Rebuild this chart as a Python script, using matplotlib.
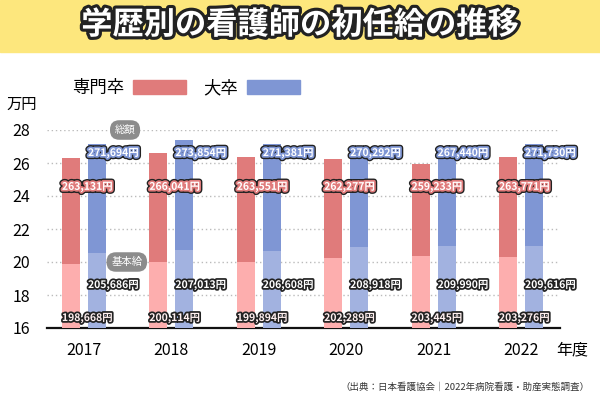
import numpy as np
import matplotlib.pyplot as plt
import matplotlib.patheffects as pe
from matplotlib.patches import Rectangle, Patch

plt.rcParams['font.family'] = ['Noto Sans CJK JP', 'DejaVu Sans']

years = ['2017', '2018', '2019', '2020', '2021', '2022']
senmon_total = [263131, 266041, 263551, 262277, 259233, 263771]
daisotsu_total = [271694, 273854, 271381, 270292, 267440, 271730]
senmon_base = [198668, 200114, 199894, 202289, 203445, 203276]
daisotsu_base = [205686, 207013, 206608, 208918, 209990, 209616]

red_dark = '#E07B7B'
red_light = '#FDAEAE'
blue_dark = '#7F96D4'
blue_light = '#A2B2E0'

fig = plt.figure(figsize=(6, 4), dpi=100)
fig.patches.append(Rectangle((0, 1 - 52 / 400), 1, 52 / 400, transform=fig.transFigure,
                             color='#FDE77D', zorder=0))
fig.text(0.5, 1 - 25 / 400, '学歴別の看護師の初任給の推移', ha='center', va='center',
         fontsize=22.5, fontweight='bold', color='white',
         path_effects=[pe.withStroke(linewidth=4.5, foreground='#222222')])

ax = fig.add_axes([47 / 600, 0.18, 513 / 600, 198 / 400])
x = np.arange(len(years))
w = 0.206
off = 0.149
base = 16

st = np.array(senmon_total) / 10000
dt = np.array(daisotsu_total) / 10000
sb = np.array(senmon_base) / 10000
db = np.array(daisotsu_base) / 10000

ax.bar(x - off, sb - base, w, bottom=base, color=red_light, zorder=2)
ax.bar(x - off, st - sb, w, bottom=sb, color=red_dark, zorder=2)
ax.bar(x + off, db - base, w, bottom=base, color=blue_light, zorder=2)
ax.bar(x + off, dt - db, w, bottom=db, color=blue_dark, zorder=2)

ax.axhline(base, color='#111111', lw=1.6, zorder=1, clip_on=False)
for yv in range(18, 29, 2):
    ax.axhline(yv, color='#BBBBBB', lw=1, ls=(0, (1, 2)), zorder=0)


def total_fx(c):
    return [pe.Stroke(linewidth=4.5, foreground='#222222'),
            pe.Stroke(linewidth=2.5, foreground=c), pe.Normal()]


base_fx = [pe.withStroke(linewidth=2.5, foreground='#222222')]

for i in range(len(years)):
    ax.text(x[i] - off - w / 2, 24.55, f'{senmon_total[i]:,}円', ha='left', va='center',
            fontsize=7.5, fontweight='bold', color='white', path_effects=total_fx(red_dark), zorder=5)
    ax.text(x[i] + off - w / 2, 26.6, f'{daisotsu_total[i]:,}円', ha='left', va='center',
            fontsize=7.5, fontweight='bold', color='white', path_effects=total_fx(blue_dark), zorder=5)
    ax.text(x[i] - off - w / 2, 16.6, f'{senmon_base[i]:,}円', ha='left', va='center',
            fontsize=7.5, fontweight='bold', color='#FFF0F0', path_effects=base_fx, zorder=5)
    ax.text(x[i] + off - w / 2, 18.6, f'{daisotsu_base[i]:,}円', ha='left', va='center',
            fontsize=7.5, fontweight='bold', color='white', path_effects=base_fx, zorder=5)

box = dict(boxstyle='round,pad=0.45,rounding_size=0.9', fc='#8C8C8C', ec='none')
ax.text(0.47, 28, '総額', ha='center', va='center', fontsize=7.5, color='white', bbox=box, zorder=6)
ax.text(0.49, 20, '基本給', ha='center', va='center', fontsize=7.5, color='white', bbox=box, zorder=6)

ax.set_xlim(-0.423, 5.446)
ax.set_ylim(16, 28)
ax.set_yticks(range(16, 29, 2))
ax.set_xticks(x)
ax.set_xticklabels(years)
ax.tick_params(axis='both', length=0, labelsize=11.5)
ax.tick_params(axis='x', pad=10)
ax.tick_params(axis='y', pad=12)
for s in ax.spines.values():
    s.set_visible(False)

fig.text(22 / 600, 1 - 104 / 400, '万円', ha='center', va='center', fontsize=11)
fig.text(572 / 600, 1 - 350 / 400, '年度', ha='center', va='center', fontsize=11.5)
fig.text(590 / 600, 1 - 387 / 400, '（出典：日本看護協会｜2022年病院看護・助産実態調査）',
         ha='right', va='center', fontsize=6.8, color='#333333')

handles = [Patch(color=red_dark), Patch(color=blue_dark)]
fig.legend(handles, ['専門卒', '大卒'], loc='center left', bbox_to_anchor=(72 / 600, 1 - 88 / 400),
           ncol=2, frameon=False, markerfirst=False, fontsize=12.5, handlelength=3.05,
           handleheight=0.8, handletextpad=0.5, columnspacing=1.0, borderaxespad=0, borderpad=0)

fig.savefig('out.png', dpi=100)
